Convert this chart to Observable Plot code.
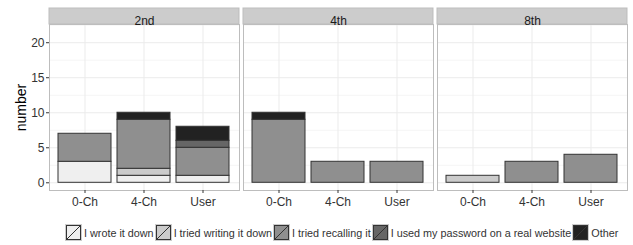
<!DOCTYPE html>
<html>
<head>
<meta charset="utf-8">
<script src="https://cdn.jsdelivr.net/npm/d3@7"></script>
<script src="https://cdn.jsdelivr.net/npm/@observablehq/plot@0.6"></script>
<style>
  body { margin: 0; background: #fff; font-family: "Liberation Sans", Arial, sans-serif; }
  #legend { display: flex; align-items: center; margin-left: 65px; padding-top: 12px; font-size: 10.8px; color: #333; }
  #legend .item { display: flex; align-items: center; }
  #legend svg { display: block; margin-right: 2px; }
  #legend span { margin-right: 1px; white-space: nowrap; }
</style>
</head>
<body>
<div id="chart"></div>
<div id="legend"></div>
<script>
// ---- data ----
const grades = ["2nd", "4th", "8th"];
const conditions = ["0-Ch", "4-Ch", "User"];
const responses = ["I wrote it down", "I tried writing it down", "I tried recalling it", "I used my password on a real website", "Other"];
const fills = ["#efefef", "#cbcbcb", "#8f8f8f", "#666666", "#222222"];
// values ordered: 2nd(0-Ch,4-Ch,User), 4th(...), 8th(...)
const wroteItDown     = [3, 1, 1,  0, 0, 0,  0, 0, 0];
const triedWriting    = [0, 1, 0,  0, 0, 0,  1, 0, 0];
const triedRecalling  = [4, 7, 4,  9, 3, 3,  0, 3, 4];
const usedPassword    = [0, 0, 1,  0, 0, 0,  0, 0, 0];
const other           = [0, 1, 2,  1, 0, 0,  0, 0, 0];
const yTicks = [0, 5, 10, 15, 20];
const yMinor = [2.5, 7.5, 12.5, 17.5, 22.5];

const series = [wroteItDown, triedWriting, triedRecalling, usedPassword, other];
const rows = [];
grades.forEach((g, gi) => conditions.forEach((c, ci) => series.forEach((s, si) => {
  const v = s[gi * 3 + ci];
  if (v > 0) rows.push({grade: g, condition: c, response: responses[si], value: v});
})));

const yTop = 22.6;
const chart = Plot.plot({
  width: 633,
  height: 212,
  marginLeft: 48,
  marginRight: 4,
  marginTop: 24,
  marginBottom: 22,
  style: {fontFamily: "Liberation Sans, Arial, sans-serif", fontSize: "12px", color: "#333", background: "#fff"},
  fx: {domain: grades, paddingInner: 0.0205, paddingOuter: 0, axis: null},
  x: {domain: conditions, paddingInner: 0.1, paddingOuter: 0.15},
  y: {domain: [-1.1, yTop]},
  color: {domain: responses, range: fills},
  marks: [
    Plot.gridY(yMinor, {stroke: "#f5f5f5", strokeOpacity: 1}),
    Plot.gridY(yTicks, {stroke: "#ebebeb", strokeOpacity: 1}),
    Plot.gridX({stroke: "#ebebeb", strokeOpacity: 1}),
    Plot.barY(rows, {fx: "grade", x: "condition", y: "value", fill: "response", stroke: "#333", strokeWidth: 1, order: responses}),
    Plot.frame({stroke: "#bdbdbd"}),
    Plot.rect([0], {y1: () => yTop, y2: () => yTop, insetTop: -16, fill: "#cccccc", stroke: "#bdbdbd"}),
    Plot.text(grades, {fx: d => d, text: d => d, frameAnchor: "top", dy: -8, fontSize: 12, fill: "#1a1a1a"}),
    Plot.axisY({ticks: yTicks, tickSize: 3, tickPadding: 2, label: "number", labelAnchor: "center", labelArrow: "none", labelOffset: 33, fontSize: 12, stroke: "#333"}),
    Plot.axisX({tickSize: 3, tickPadding: 4, label: null, fontSize: 12})
  ]
});
document.getElementById("chart").appendChild(chart);
// style y label
chart.querySelectorAll("text").forEach(t => { if (t.textContent === "number") { t.setAttribute("font-size", "14"); t.setAttribute("fill", "#000"); } });

// legend
const legend = document.getElementById("legend");
responses.forEach((r, i) => {
  const item = document.createElement("div");
  item.className = "item";
  item.innerHTML = `<svg width="17" height="17"><rect x="0.5" y="0.5" width="16" height="16" fill="#f2f2f2" stroke="#ccc"/><rect x="1.5" y="1.5" width="14" height="14" fill="${fills[i]}" stroke="#333"/><line x1="2" y1="15" x2="15" y2="2" stroke="#333" stroke-width="1"/></svg><span>${r}</span>`;
  legend.appendChild(item);
});
</script>
</body>
</html>
